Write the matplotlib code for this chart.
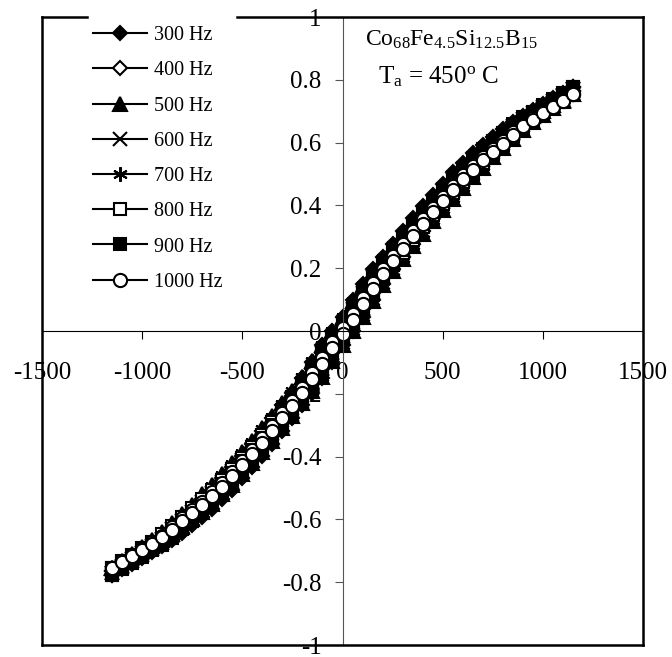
import matplotlib
matplotlib.use('Agg')
import matplotlib.pyplot as plt
from matplotlib.lines import Line2D

plt.rcParams['font.family'] = ['Liberation Serif', 'DejaVu Serif']
plt.rcParams['mathtext.fontset'] = 'custom'
plt.rcParams['mathtext.rm'] = 'Liberation Serif'
plt.rcParams['mathtext.it'] = 'Liberation Serif:italic'
plt.rcParams['axes.unicode_minus'] = False

# ---------------- data ----------------
H_DOWN = [1150, 1100, 1050, 1000, 950, 900, 850, 800, 750, 700,
          650, 600, 550, 500, 450, 400, 350, 300, 250, 200, 150, 100, 50, 0,
          -50, -100, -150, -200, -250, -300, -350, -400, -450, -500, -550, -600,
          -650, -700, -750, -800, -850, -900, -950, -1000, -1050, -1100, -1150]
H_UP = [-1150, -1100, -1050, -1000, -950, -900, -850, -800, -750, -700,
        -650, -600, -550, -500, -450, -400, -350, -300, -250, -200, -150, -100, -50, 0,
        50, 100, 150, 200, 250, 300, 350, 400, 450, 500, 550, 600,
        650, 700, 750, 800, 850, 900, 950, 1000, 1050, 1100, 1150]

b300_down = [0.778, 0.759, 0.741, 0.723, 0.705, 0.686, 0.666, 0.643, 0.617, 0.593,
             0.567, 0.536, 0.505, 0.469, 0.433, 0.397, 0.361, 0.319, 0.278, 0.237, 0.196, 0.149, 0.098, 0.046,
             0.000, -0.046, -0.098, -0.149, -0.196, -0.237, -0.278, -0.319, -0.361, -0.397, -0.433, -0.469,
             -0.505, -0.536, -0.570, -0.599, -0.630, -0.660, -0.686, -0.709, -0.732, -0.755, -0.778]
b300_up = [-0.778, -0.759, -0.741, -0.723, -0.705, -0.686, -0.666, -0.643, -0.617, -0.593,
           -0.567, -0.536, -0.505, -0.469, -0.433, -0.397, -0.361, -0.319, -0.278, -0.237, -0.196, -0.149, -0.098, -0.046,
           0.000, 0.046, 0.098, 0.149, 0.196, 0.237, 0.278, 0.319, 0.361, 0.397, 0.433, 0.469,
           0.505, 0.536, 0.570, 0.599, 0.630, 0.660, 0.686, 0.709, 0.732, 0.755, 0.778]

b400_down = [0.763, 0.743, 0.724, 0.705, 0.686, 0.668, 0.645, 0.619, 0.593, 0.569,
             0.540, 0.510, 0.478, 0.442, 0.407, 0.372, 0.333, 0.293, 0.253, 0.212, 0.170, 0.121, 0.071, 0.022,
             -0.022, -0.071, -0.121, -0.170, -0.212, -0.253, -0.293, -0.333, -0.372, -0.407, -0.442, -0.478,
             -0.510, -0.540, -0.571, -0.598, -0.626, -0.654, -0.678, -0.699, -0.720, -0.741, -0.763]
b400_up = [-0.763, -0.743, -0.724, -0.705, -0.686, -0.668, -0.645, -0.619, -0.593, -0.569,
           -0.540, -0.510, -0.478, -0.442, -0.407, -0.372, -0.333, -0.293, -0.253, -0.212, -0.170, -0.121, -0.071, -0.022,
           0.022, 0.071, 0.121, 0.170, 0.212, 0.253, 0.293, 0.333, 0.372, 0.407, 0.442, 0.478,
           0.510, 0.540, 0.571, 0.598, 0.626, 0.654, 0.678, 0.699, 0.720, 0.741, 0.763]

b500_down = [0.755, 0.737, 0.719, 0.702, 0.684, 0.666, 0.647, 0.624, 0.599, 0.576,
             0.550, 0.520, 0.490, 0.455, 0.420, 0.385, 0.350, 0.310, 0.270, 0.230, 0.190, 0.145, 0.095, 0.045,
             0.000, -0.045, -0.095, -0.145, -0.190, -0.230, -0.270, -0.310, -0.350, -0.385, -0.420, -0.455,
             -0.490, -0.520, -0.553, -0.582, -0.612, -0.641, -0.666, -0.688, -0.711, -0.733, -0.755]
b500_up = [-0.755, -0.737, -0.719, -0.702, -0.684, -0.666, -0.647, -0.624, -0.599, -0.576,
           -0.550, -0.520, -0.490, -0.455, -0.420, -0.385, -0.350, -0.310, -0.270, -0.230, -0.190, -0.145, -0.095, -0.045,
           0.000, 0.045, 0.095, 0.145, 0.190, 0.230, 0.270, 0.310, 0.350, 0.385, 0.420, 0.455,
           0.490, 0.520, 0.553, 0.582, 0.612, 0.641, 0.666, 0.688, 0.711, 0.733, 0.755]

b600_down = [0.770, 0.751, 0.731, 0.712, 0.693, 0.674, 0.652, 0.625, 0.599, 0.574,
             0.546, 0.515, 0.482, 0.447, 0.411, 0.375, 0.337, 0.296, 0.255, 0.214, 0.171, 0.122, 0.071, 0.022,
             -0.022, -0.071, -0.122, -0.171, -0.214, -0.255, -0.296, -0.337, -0.375, -0.411, -0.447, -0.482,
             -0.515, -0.546, -0.576, -0.604, -0.632, -0.661, -0.684, -0.706, -0.727, -0.749, -0.770]
b600_up = [-0.770, -0.751, -0.731, -0.712, -0.693, -0.674, -0.652, -0.625, -0.599, -0.574,
           -0.546, -0.515, -0.482, -0.447, -0.411, -0.375, -0.337, -0.296, -0.255, -0.214, -0.171, -0.122, -0.071, -0.022,
           0.022, 0.071, 0.122, 0.171, 0.214, 0.255, 0.296, 0.337, 0.375, 0.411, 0.447, 0.482,
           0.515, 0.546, 0.576, 0.604, 0.632, 0.661, 0.684, 0.706, 0.727, 0.749, 0.770]

b700_down = [0.763, 0.744, 0.726, 0.709, 0.691, 0.673, 0.653, 0.630, 0.605, 0.582,
             0.556, 0.525, 0.495, 0.460, 0.424, 0.389, 0.354, 0.313, 0.273, 0.232, 0.192, 0.146, 0.096, 0.045,
             0.000, -0.045, -0.096, -0.146, -0.192, -0.232, -0.273, -0.313, -0.354, -0.389, -0.424, -0.460,
             -0.495, -0.525, -0.559, -0.588, -0.618, -0.647, -0.673, -0.695, -0.718, -0.740, -0.763]
b700_up = [-0.763, -0.744, -0.726, -0.709, -0.691, -0.673, -0.653, -0.630, -0.605, -0.582,
           -0.556, -0.525, -0.495, -0.460, -0.424, -0.389, -0.354, -0.313, -0.273, -0.232, -0.192, -0.146, -0.096, -0.045,
           0.000, 0.045, 0.096, 0.146, 0.192, 0.232, 0.273, 0.313, 0.354, 0.389, 0.424, 0.460,
           0.495, 0.525, 0.559, 0.588, 0.618, 0.647, 0.673, 0.695, 0.718, 0.740, 0.763]

b800_down = [0.755, 0.736, 0.717, 0.698, 0.679, 0.661, 0.639, 0.613, 0.587, 0.563,
             0.535, 0.505, 0.473, 0.438, 0.403, 0.368, 0.330, 0.290, 0.250, 0.210, 0.168, 0.120, 0.070, 0.022,
             -0.022, -0.070, -0.120, -0.168, -0.210, -0.250, -0.290, -0.330, -0.368, -0.403, -0.438, -0.473,
             -0.505, -0.535, -0.565, -0.592, -0.620, -0.648, -0.671, -0.692, -0.713, -0.734, -0.755]
b800_up = [-0.755, -0.736, -0.717, -0.698, -0.679, -0.661, -0.639, -0.613, -0.587, -0.563,
           -0.535, -0.505, -0.473, -0.438, -0.403, -0.368, -0.330, -0.290, -0.250, -0.210, -0.168, -0.120, -0.070, -0.022,
           0.022, 0.070, 0.120, 0.168, 0.210, 0.250, 0.290, 0.330, 0.368, 0.403, 0.438, 0.473,
           0.505, 0.535, 0.565, 0.592, 0.620, 0.648, 0.671, 0.692, 0.713, 0.734, 0.755]

b900_down = [0.778, 0.758, 0.739, 0.719, 0.699, 0.681, 0.658, 0.631, 0.605, 0.580,
             0.551, 0.520, 0.487, 0.451, 0.415, 0.379, 0.340, 0.299, 0.258, 0.216, 0.173, 0.124, 0.072, 0.023,
             -0.023, -0.072, -0.124, -0.173, -0.216, -0.258, -0.299, -0.340, -0.379, -0.415, -0.451, -0.487,
             -0.520, -0.551, -0.582, -0.610, -0.639, -0.667, -0.691, -0.713, -0.734, -0.756, -0.778]
b900_up = [-0.778, -0.758, -0.739, -0.719, -0.699, -0.681, -0.658, -0.631, -0.605, -0.580,
           -0.551, -0.520, -0.487, -0.451, -0.415, -0.379, -0.340, -0.299, -0.258, -0.216, -0.173, -0.124, -0.072, -0.023,
           0.023, 0.072, 0.124, 0.173, 0.216, 0.258, 0.299, 0.340, 0.379, 0.415, 0.451, 0.487,
           0.520, 0.551, 0.582, 0.610, 0.639, 0.667, 0.691, 0.713, 0.734, 0.756, 0.778]

b1000_down = [0.755, 0.735, 0.716, 0.696, 0.677, 0.657, 0.634, 0.606, 0.581, 0.555,
              0.526, 0.496, 0.462, 0.427, 0.392, 0.357, 0.318, 0.278, 0.238, 0.198, 0.154, 0.105, 0.055, 0.009,
              -0.036, -0.085, -0.135, -0.181, -0.222, -0.262, -0.302, -0.342, -0.378, -0.413, -0.448, -0.483,
              -0.514, -0.544, -0.571, -0.597, -0.625, -0.652, -0.673, -0.693, -0.714, -0.734, -0.755]
b1000_up = [-0.755, -0.735, -0.716, -0.696, -0.677, -0.657, -0.634, -0.606, -0.581, -0.555,
            -0.526, -0.496, -0.462, -0.427, -0.392, -0.357, -0.318, -0.278, -0.238, -0.198, -0.154, -0.105, -0.055, -0.009,
            0.036, 0.085, 0.135, 0.181, 0.222, 0.262, 0.302, 0.342, 0.378, 0.413, 0.448, 0.483,
            0.514, 0.544, 0.571, 0.597, 0.625, 0.652, 0.673, 0.693, 0.714, 0.734, 0.755]

labels = ['300 Hz', '400 Hz', '500 Hz', '600 Hz', '700 Hz', '800 Hz', '900 Hz', '1000 Hz']
down_branches = [b300_down, b400_down, b500_down, b600_down, b700_down, b800_down, b900_down, b1000_down]
up_branches = [b300_up, b400_up, b500_up, b600_up, b700_up, b800_up, b900_up, b1000_up]

x_ticks = [-1500, -1000, -500, 0, 500, 1000, 1500]
x_tick_labels = ['-1500', '-1000', '-500', '0', '500', '1000', '1500']
y_ticks = [-1, -0.8, -0.6, -0.4, -0.2, 0, 0.2, 0.4, 0.6, 0.8, 1]
y_tick_labels = ['-1', '-0.8', '-0.6', '-0.4', '-0.2', '0', '0.2', '0.4', '0.6', '0.8', '1']

# ---------------- styles ----------------
styles = [
    dict(marker='D', ms=7.5, mfc='black'),
    dict(marker='D', ms=7.5, mfc='white'),
    dict(marker='^', ms=9.5, mfc='black'),
    dict(marker='x', ms=9.5, mfc='black'),
    dict(marker=(6, 2, 0), ms=10.5, mfc='black'),
    dict(marker='s', ms=8.5, mfc='white'),
    dict(marker='s', ms=8.5, mfc='black'),
    dict(marker='o', ms=9.5, mfc='white'),
]

fig = plt.figure(figsize=(6.72, 6.57), dpi=100)
ax = fig.add_axes([42 / 672, 12 / 657, 601 / 672, 628 / 657])

for lab, dn, up, st in zip(labels, down_branches, up_branches, styles):
    ax.plot(H_DOWN + H_UP, dn + up, color='black', lw=1.5, mec='black', mew=1.5,
            label=lab, **st)

ax.set_xlim(-1500, 1500)
ax.set_ylim(-1, 1)

ax.spines['left'].set_position(('data', 0))
ax.spines['bottom'].set_position(('data', 0))
ax.spines['top'].set_visible(False)
ax.spines['right'].set_visible(False)
ax.spines['left'].set_linewidth(0.8)
ax.spines['bottom'].set_linewidth(0.8)
ax.spines['left'].set_color('#555555')

ax.set_xticks(x_ticks)
ax.set_xticklabels(x_tick_labels)
ax.set_yticks(y_ticks)
ax.set_yticklabels(y_tick_labels)
ax.tick_params(axis='x', direction='out', length=6, width=0.8, pad=16, labelsize=18)
ax.tick_params(axis='y', direction='out', length=6, width=0.8, pad=9, labelsize=18,
               color='#555555')

# outer frame; the top edge is interrupted where the legend sits
gap_l, gap_r = 0.075, 0.3245
frame_segments = [
    ([0, 0], [0, 1]),
    ([0, 1], [0, 0]),
    ([1, 1], [0, 1]),
    ([0, gap_l], [1, 1]),
    ([gap_r, 1], [1, 1]),
]
for xs, ys in frame_segments:
    ax.add_artist(Line2D(xs, ys, transform=ax.transAxes, color='black', lw=1.8,
                         clip_on=False, zorder=3, solid_capstyle='projecting'))

leg = ax.legend(loc='upper left', bbox_to_anchor=(0.075, 0.995), borderaxespad=0,
                frameon=False, fontsize=14.5, handlelength=2.7, handletextpad=0.3,
                labelspacing=0.8, borderpad=0.3)
leg.set_zorder(10)

ax.text(0.537, 0.954, r'Co$_\mathregular{68}$Fe$_\mathregular{4.5}$Si$_\mathregular{12.5}$B$_\mathregular{15}$',
        transform=ax.transAxes, fontsize=17, va='baseline', ha='left')
ax.text(0.559, 0.895, r'T$_\mathregular{a}$ = 450$^\mathregular{o}$ C',
        transform=ax.transAxes, fontsize=18, va='baseline', ha='left')

fig.savefig('out.png', dpi=100)
